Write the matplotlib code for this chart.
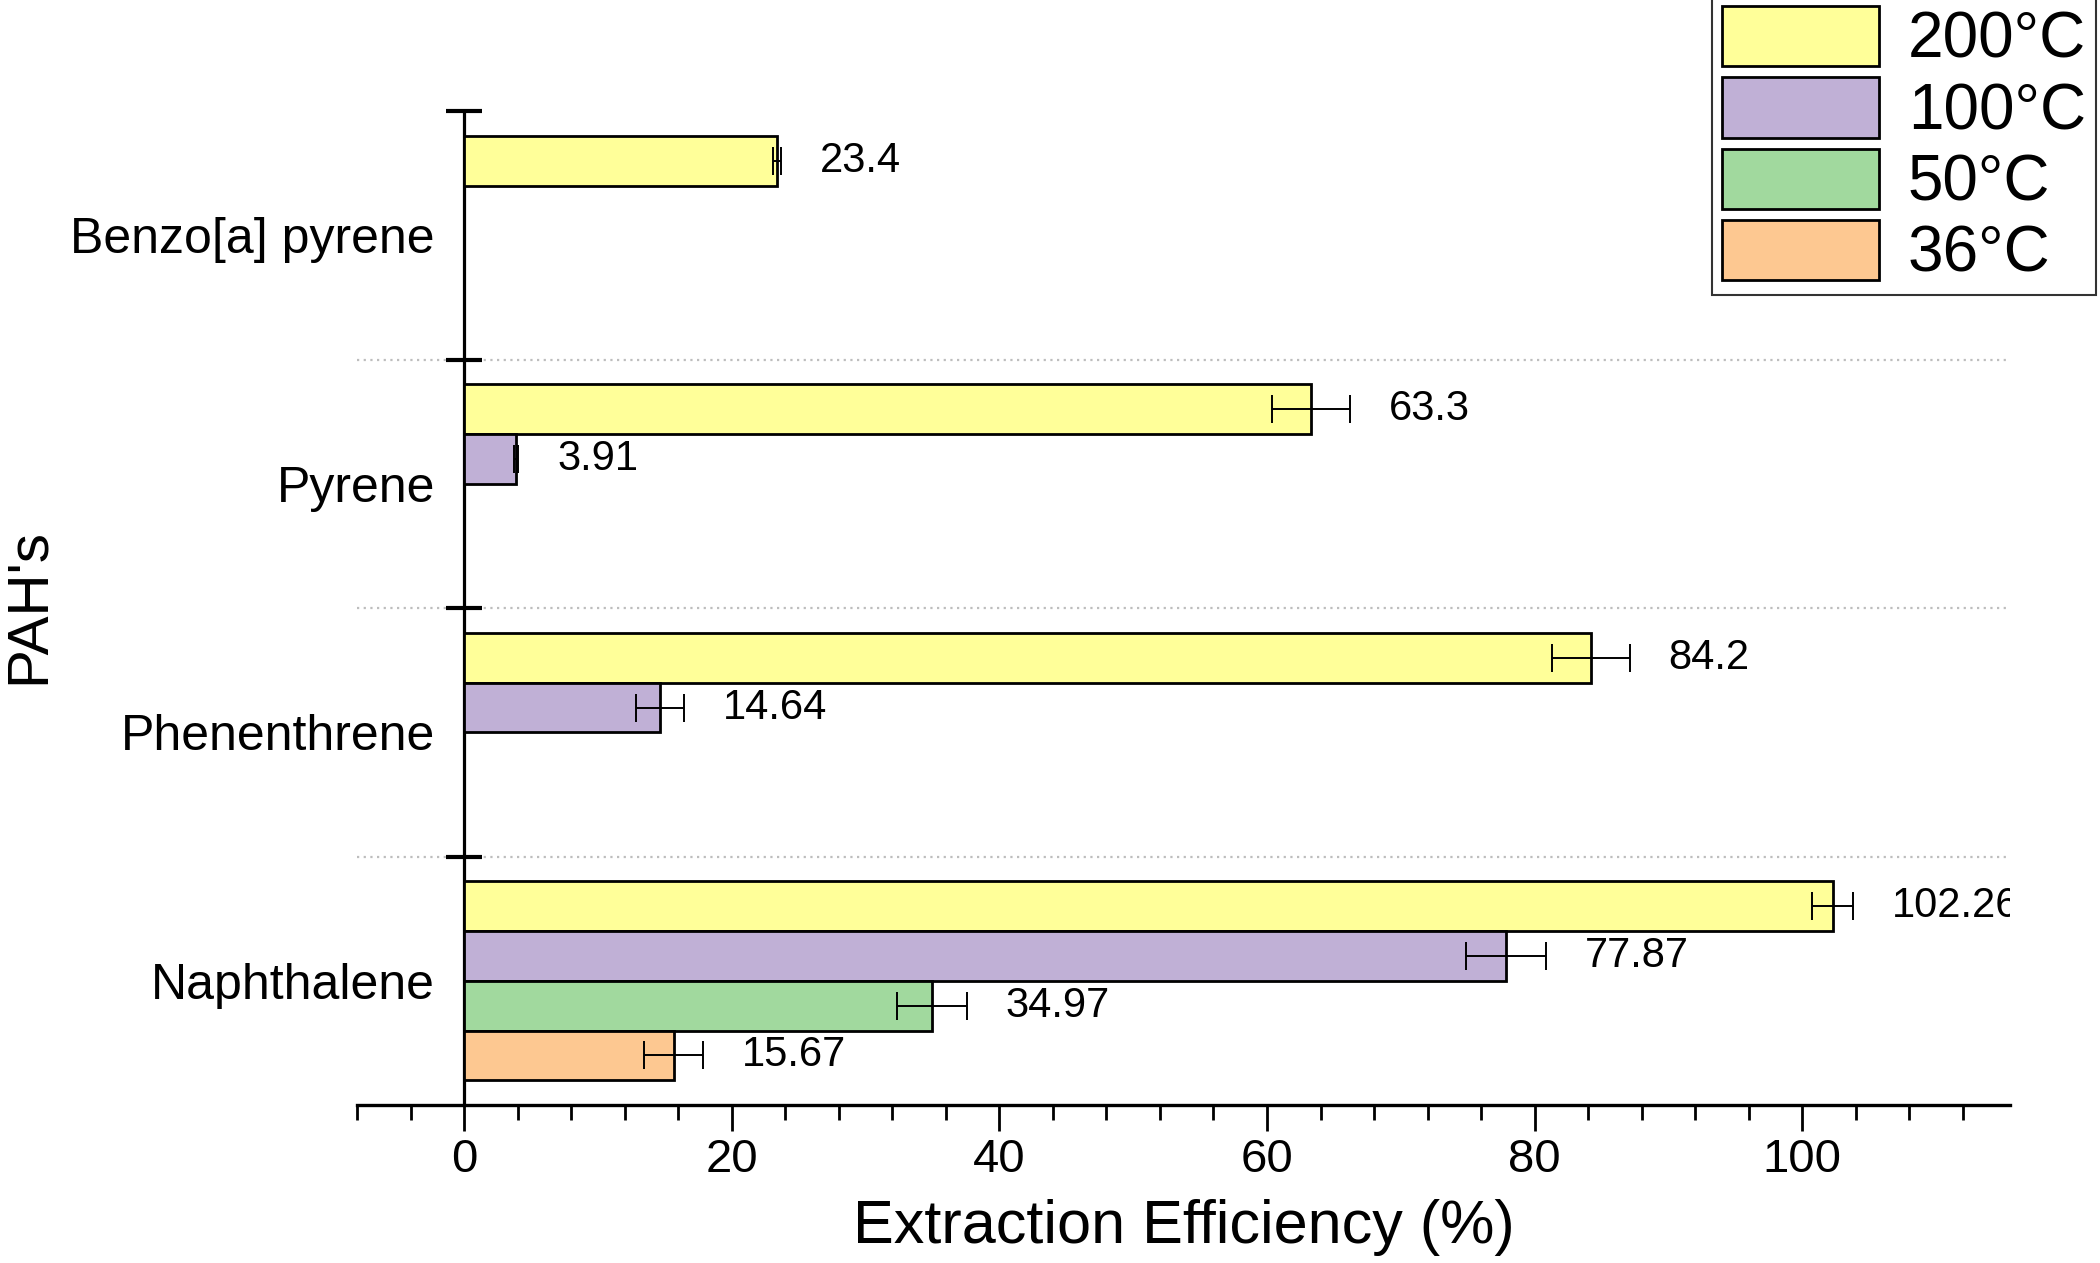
import numpy as np
import matplotlib
matplotlib.use("Agg")
import matplotlib.pyplot as plt
from matplotlib import transforms
from matplotlib.ticker import FixedLocator, MultipleLocator

# ---- data ----
categories = ["Naphthalene", "Phenenthrene", "Pyrene", "Benzo[a] pyrene"]
temps = ["200°C", "100°C", "50°C", "36°C"]
vals_200 = [102.26, 84.2, 63.3, 23.4]
err_200 = [1.5, 2.9, 2.9, 0.3]
vals_100 = [77.87, 14.64, 3.91, np.nan]
err_100 = [3.0, 1.8, 0.15, np.nan]
vals_50 = [34.97, np.nan, np.nan, np.nan]
err_50 = [2.6, np.nan, np.nan, np.nan]
vals_36 = [15.67, np.nan, np.nan, np.nan]
err_36 = [2.2, np.nan, np.nan, np.nan]
x_ticks = [0, 20, 40, 60, 80, 100]

series_vals = [vals_200, vals_100, vals_50, vals_36]
series_errs = [err_200, err_100, err_50, err_36]
colors = ["#FFFF99", "#C0B0D6", "#A1D99E", "#FDC891"]

plt.rcParams["font.family"] = ["Liberation Sans", "DejaVu Sans"]

fig = plt.figure(figsize=(21, 12.63), dpi=100)
ax = fig.add_axes([0.170, 0.125, 0.787, 0.787])

bar_h = 0.2
label_tr = transforms.offset_copy(ax.transData, fig=fig, x=28, y=0, units="points")
handles = []
for j, (vals, errs, col, lab) in enumerate(zip(series_vals, series_errs, colors, temps)):
    ys = np.arange(len(categories)) + 0.3 - bar_h * j
    v = np.array(vals, dtype=float)
    e = np.array(errs, dtype=float)
    m = ~np.isnan(v)
    b = ax.barh(ys[m], v[m], height=bar_h, color=col, edgecolor="black",
                linewidth=2.0, label=lab, zorder=3)
    ax.errorbar(v[m], ys[m], xerr=e[m], fmt="none", ecolor="black",
                elinewidth=1.4, capsize=10, capthick=1.4, zorder=4)
    for yy, vv, ee in zip(ys[m], v[m], e[m]):
        ax.text(vv + ee, yy, f"{vv:g}", transform=label_tr, ha="left",
                va="center", fontsize=30, clip_on=True, zorder=5)
    handles.append(b)

ax.set_xlim(-8, 115.5)
ax.set_ylim(-0.5, len(categories) - 0.5)

for yb in np.arange(0.5, len(categories) - 0.5, 1.0):
    ax.axhline(yb, color="#bdbdbd", linestyle=(0, (1, 2)), linewidth=1.6, zorder=1)

# spines
ax.spines["top"].set_visible(False)
ax.spines["right"].set_visible(False)
ax.spines["left"].set_position(("data", 0))
ax.spines["left"].set_linewidth(2.3)
ax.spines["bottom"].set_linewidth(2.4)

# x ticks
ax.xaxis.set_major_locator(FixedLocator(x_ticks))
ax.xaxis.set_minor_locator(MultipleLocator(4))
ax.tick_params(axis="x", which="major", direction="out", length=19, width=2.0,
               labelsize=34, pad=5)
ax.tick_params(axis="x", which="minor", direction="out", length=11, width=2.0)

# y ticks: boundaries as major (no labels), categories as minor labels
ax.yaxis.set_major_locator(FixedLocator(np.arange(0.5, len(categories), 1.0)))
ax.yaxis.set_major_formatter(plt.NullFormatter())
ax.set_yticks(np.arange(len(categories)), categories, minor=True)
ax.tick_params(axis="y", which="major", direction="inout", length=26, width=3.0)
ax.tick_params(axis="y", which="minor", length=0, labelsize=36, pad=21)

ax.set_xlabel("Extraction Efficiency (%)", fontsize=44, labelpad=12)
fig.text(0.001, 0.52, "PAH's", rotation=90, ha="left", va="center", fontsize=42)

leg = fig.legend(handles=handles, labels=temps, loc="upper right",
                 bbox_to_anchor=(0.998, 1.003), fontsize=46, frameon=True,
                 fancybox=False, handlelength=2.46, handleheight=1.08,
                 labelspacing=0.1, handletextpad=0.45, borderpad=0.15,
                 borderaxespad=0)
leg.get_frame().set_edgecolor("black")
leg.get_frame().set_linewidth(1.5)

fig.savefig("out.png", dpi=100)
